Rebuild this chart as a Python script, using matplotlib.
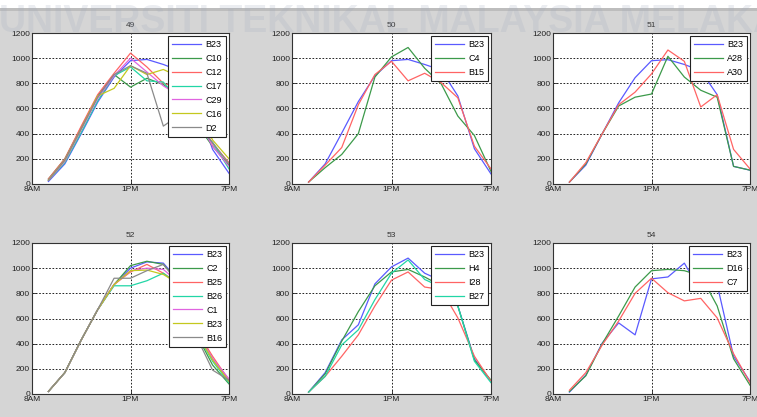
import matplotlib
matplotlib.use("Agg")
import matplotlib.pyplot as plt
from matplotlib.patches import Rectangle

plt.rcParams['font.family'] = ['Liberation Sans', 'DejaVu Sans']
plt.rcParams['font.size'] = 6

# half-hour index 1..12 along an axis running 0..12 (8AM..7PM)
steps = [1, 2, 3, 4, 5, 6, 7, 8, 9, 10, 11, 12]
tick_pos = [0, 6, 12]
tick_labels = ['8AM', '1PM', '7PM']
y_ticks = [0, 200, 400, 600, 800, 1000, 1200]

# panel 49
p49_names = ['B23', 'C10', 'C12', 'C17', 'C29', 'C16', 'D2']
p49_b23 = [20, 160, 400, 650, 850, 980, 990, 950, 900, 650, 275, 85]
p49_c10 = [40, 200, 450, 700, 870, 770, 840, 790, 700, 480, 300, 150]
p49_c12 = [40, 200, 460, 710, 880, 1040, 930, 800, 760, 560, 320, 170]
p49_c17 = [30, 170, 410, 660, 860, 930, 820, 810, 650, 450, 330, 120]
p49_c29 = [30, 180, 430, 680, 860, 1000, 890, 780, 700, 530, 300, 140]
p49_c16 = [30, 190, 440, 700, 760, 940, 870, 910, 850, 600, 350, 200]
p49_d2 = [30, 190, 440, 690, 870, 940, 880, 460, 550, 480, 330, 160]

# panel 50
p50_names = ['B23', 'C4', 'B15']
p50_b23 = [15, 160, 405, 655, 860, 980, 990, 950, 905, 700, 280, 80]
p50_c4 = [15, 130, 235, 400, 850, 1010, 1085, 920, 795, 540, 385, 100]
p50_b15 = [15, 150, 290, 630, 870, 975, 820, 880, 805, 685, 300, 120]

# panel 51
p51_names = ['B23', 'A28', 'A30']
p51_b23 = [15, 150, 400, 645, 845, 980, 988, 950, 900, 710, 140, 110]
p51_a28 = [15, 160, 400, 620, 690, 715, 1015, 850, 745, 690, 140, 110]
p51_a30 = [15, 170, 400, 630, 730, 875, 1065, 975, 612, 710, 275, 120]

# panel 52
p52_names = ['B23', 'C2', 'B25', 'B26', 'C1', 'B23', 'B16']
p52_b23 = [20, 170, 430, 670, 870, 1000, 1050, 1040, 890, 500, 280, 100]
p52_c2 = [20, 170, 430, 670, 870, 1020, 1055, 1030, 880, 480, 230, 80]
p52_b25 = [20, 170, 430, 670, 870, 970, 1030, 960, 870, 510, 300, 110]
p52_b26 = [20, 170, 430, 670, 860, 860, 900, 960, 860, 490, 260, 90]
p52_c1 = [20, 170, 430, 670, 870, 980, 1000, 990, 880, 500, 280, 120]
p52_b23b = [20, 170, 430, 670, 870, 980, 985, 950, 870, 490, 270, 100]
p52_b16 = [20, 170, 430, 670, 920, 920, 980, 1030, 870, 460, 190, 110]

# panel 53
p53_names = ['B23', 'H4', 'I28', 'B27']
p53_b23 = [15, 170, 430, 550, 875, 1010, 1080, 960, 900, 700, 280, 100]
p53_h4 = [15, 160, 420, 655, 860, 970, 990, 930, 860, 700, 270, 110]
p53_i28 = [15, 140, 300, 470, 700, 905, 970, 850, 830, 605, 300, 100]
p53_b27 = [15, 140, 390, 510, 750, 960, 1065, 910, 850, 700, 260, 90]

# panel 54
p54_names = ['B23', 'D16', 'C7']
p54_b23 = [15, 150, 405, 565, 470, 915, 930, 1040, 815, 870, 300, 100]
p54_d16 = [20, 145, 400, 620, 850, 980, 990, 980, 940, 700, 280, 70]
p54_c7 = [30, 170, 390, 580, 800, 920, 805, 740, 760, 605, 320, 90]

colors = ['#5a5aff', '#3c9a4a', '#ff6464', '#22d6a6', '#e064e0', '#c4c81e', '#8a8a8a']

panels = [
    ('49', p49_names, [p49_b23, p49_c10, p49_c12, p49_c17, p49_c29, p49_c16, p49_d2]),
    ('50', p50_names, [p50_b23, p50_c4, p50_b15]),
    ('51', p51_names, [p51_b23, p51_a28, p51_a30]),
    ('52', p52_names, [p52_b23, p52_c2, p52_b25, p52_b26, p52_c1, p52_b23b, p52_b16]),
    ('53', p53_names, [p53_b23, p53_h4, p53_i28, p53_b27]),
    ('54', p54_names, [p54_b23, p54_d16, p54_c7]),
]

W, H = 757, 417
fig = plt.figure(figsize=(W / 100, H / 100), dpi=100, facecolor='#d5d5d5')

# white strip and darker rule at the very top of the scan
fig.patches.append(Rectangle((0, 1 - 8 / H), 1, 8 / H, transform=fig.transFigure,
                             facecolor='white', edgecolor='none', zorder=0))
fig.patches.append(Rectangle((0, 1 - 11 / H), 1, 3 / H, transform=fig.transFigure,
                             facecolor='#bdbdbd', edgecolor='none', zorder=0))

cols = [(32, 229), (292, 491), (553, 750)]
rows = [(33, 184), (243, 394)]

for k, (title, names, series) in enumerate(panels):
    x0, x1 = cols[k % 3]
    y0, y1 = rows[k // 3]
    ax = fig.add_axes([x0 / W, 1 - y1 / H, (x1 - x0) / W, (y1 - y0) / H])
    ax.set_facecolor('white')
    for i, vals in enumerate(series):
        ax.plot(steps, vals, color=colors[i], lw=0.9, label=names[i])
    ax.set_xlim(0, 12)
    ax.set_ylim(0, 1200)
    ax.set_xticks(tick_pos)
    ax.set_xticklabels(tick_labels)
    ax.set_yticks(y_ticks)
    ax.tick_params(direction='in', length=3, width=0.6, pad=1.5, labelsize=6, colors='#222222')
    ax.grid(True, color='black', linestyle=(0, (2, 2)), linewidth=0.6)
    for s in ax.spines.values():
        s.set_linewidth(0.8)
        s.set_color('#333333')
    ax.set_title(title, fontsize=6, pad=4, color='#333333')
    leg = ax.legend(loc='upper right', fontsize=6.5, fancybox=False, framealpha=1,
                    edgecolor='#222222', borderaxespad=0.3, handlelength=3.2,
                    labelspacing=0.55, borderpad=0.45, handletextpad=0.5)
    leg.get_frame().set_linewidth(0.8)

# faint scanning watermark
fig.text(390 / W, 1 - 22 / H, 'UNIVERSITI TEKNIKAL MALAYSIA MELAKA', ha='center', va='center',
         fontsize=27, fontweight='bold', color='#a4adc0', alpha=0.22, zorder=10)

fig.savefig('out.png', dpi=100, facecolor=fig.get_facecolor())
